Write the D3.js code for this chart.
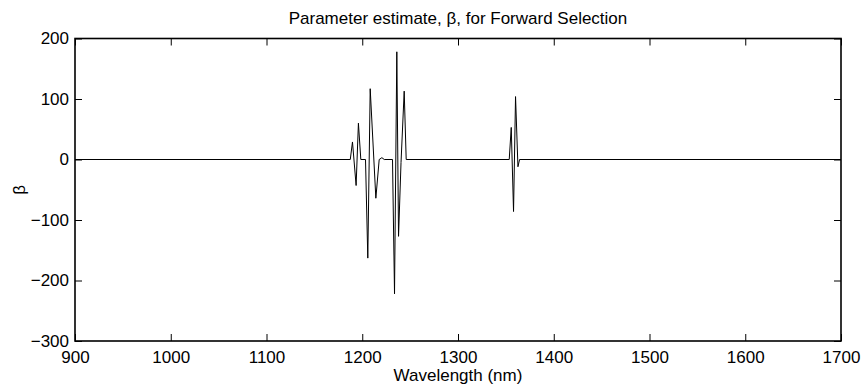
<!DOCTYPE html>
<meta charset="utf-8">
<head>
    <title>Parameter estimate</title>
    <style>
        body { margin: 0; background: #fff; }
        text { font-family: "Liberation Sans", Arial, sans-serif; fill: #000; }
    </style>
</head>
<script src="https://d3js.org/d3.v7.min.js"></script>
<svg id="chart" width="863" height="389"></svg>
<script>
    // wavelength (nm) and beta values
    const wavelength = [900, 1187.5, 1189.8, 1193.6, 1196.0, 1198.5, 1203.4, 1205.8, 1208.3, 1214.2, 1217.7,
        1220.5, 1223, 1231.6, 1233.7, 1236.1, 1237.9, 1240.5, 1243.8, 1245.9,
        1353.5, 1355.6, 1358.0, 1360.1, 1362.6, 1364.3, 1700]
    const beta = [0, 0, 29, -43, 60, 0, 0, -163, 117, -64, 0,
        3, 0, 0, -222, 178, -127, -5, 113, 0,
        0, 53, -86, 104, -12, 0, 0]
    const xTicks = [900, 1000, 1100, 1200, 1300, 1400, 1500, 1600, 1700]
    const yTicks = [-300, -200, -100, 0, 100, 200]

    const svg = d3.select("#chart")
    const mLeft = 75, mRight = 841, mTop = 38.5, mBottom = 341

    const x = d3.scaleLinear().domain([900, 1700]).range([mLeft, mRight])
    const y = d3.scaleLinear().domain([-300, 200]).range([mBottom, mTop])

    const data = wavelength.map((w, i) => [w, beta[i]])

    // the curve
    svg.append("path")
        .datum(data)
        .attr("fill", "none")
        .attr("stroke", "#000")
        .attr("stroke-width", 1)
        .attr("d", d3.line().x(d => x(d[0])).y(d => y(d[1])))

    const fmt = d => d < 0 ? "\u2212" + Math.abs(d) : String(d)

    // axes, ticks pointing inward, on all four sides
    svg.append("g")
        .attr("transform", `translate(0,${mBottom})`)
        .call(d3.axisBottom(x).tickValues(xTicks).tickSize(-7).tickPadding(10).tickFormat(d => d))
    svg.append("g")
        .attr("transform", `translate(0,${mTop})`)
        .call(d3.axisTop(x).tickValues(xTicks).tickSize(-7).tickFormat(""))
    svg.append("g")
        .attr("transform", `translate(${mLeft},0)`)
        .call(d3.axisLeft(y).tickValues(yTicks).tickSize(-7).tickPadding(6).tickFormat(fmt))
    svg.append("g")
        .attr("transform", `translate(${mRight},0)`)
        .call(d3.axisRight(y).tickValues(yTicks).tickSize(-7).tickFormat(""))

    svg.selectAll(".domain").remove()
    svg.selectAll(".tick line").attr("stroke", "#000").attr("stroke-width", 1)
    svg.selectAll(".tick text")
        .style("font-family", "'Liberation Sans', Arial, sans-serif")
        .style("font-size", "17px")
        .attr("fill", "#000")

    // box
    svg.append("rect")
        .attr("x", mLeft).attr("y", mTop)
        .attr("width", mRight - mLeft).attr("height", mBottom - mTop)
        .attr("fill", "none")
        .attr("stroke", "#000")
        .attr("stroke-width", 1.6)

    svg.append("text")
        .attr("x", (mLeft + mRight) / 2)
        .attr("y", 24)
        .attr("text-anchor", "middle")
        .style("font-size", "17px")
        .text("Parameter estimate, \u03b2, for Forward Selection")

    svg.append("text")
        .attr("x", (mLeft + mRight) / 2)
        .attr("y", 381)
        .attr("text-anchor", "middle")
        .style("font-size", "17px")
        .text("Wavelength (nm)")

    svg.append("text")
        .attr("transform", `translate(25,${(mTop + mBottom) / 2}) rotate(-90)`)
        .attr("text-anchor", "middle")
        .style("font-size", "17px")
        .text("\u03b2")
</script>
